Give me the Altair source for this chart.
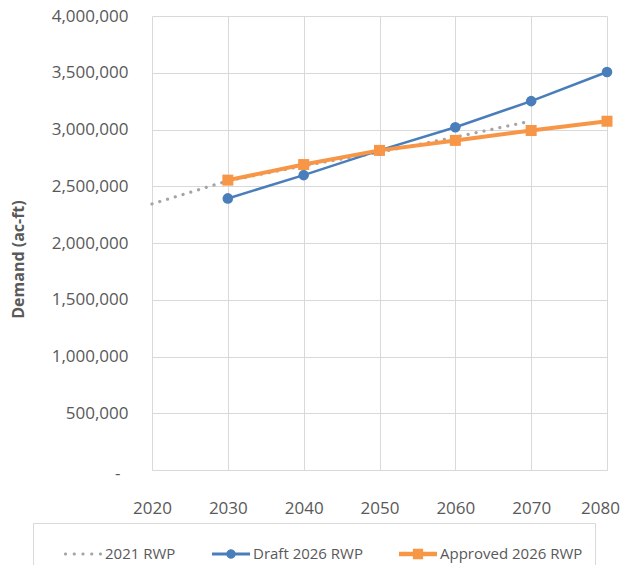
import math
import altair as alt
import pandas as pd

# ---- data ----
years_2021 = [2020, 2030, 2040, 2050, 2060, 2070]
rwp_2021 = [2344000, 2548000, 2680000, 2800000, 2933000, 3075000]

years_2026 = [2030, 2040, 2050, 2060, 2070, 2080]
draft_2026 = [2393000, 2598000, 2816000, 3020000, 3250000, 3507000]
approved_2026 = [2554000, 2691000, 2816000, 2904000, 2991000, 3073000]

series_names = ["2021 RWP", "Draft 2026 RWP", "Approved 2026 RWP"]
series_colors = ["#A5A5A5", "#4A7EBB", "#F79646"]

x_ticks = [2020, 2030, 2040, 2050, 2060, 2070, 2080]
y_ticks = [0, 500000, 1000000, 1500000, 2000000, 2500000, 3000000, 3500000, 4000000]

rows = []
for yr, v in zip(years_2021, rwp_2021):
    rows.append({"year": yr, "demand": v, "series": series_names[0]})
for yr, v in zip(years_2026, draft_2026):
    rows.append({"year": yr, "demand": v, "series": series_names[1]})
for yr, v in zip(years_2026, approved_2026):
    rows.append({"year": yr, "demand": v, "series": series_names[2]})
df = pd.DataFrame(rows)


# ---- legend symbol paths (unit square -1..1) ----
def poly(cx, cy, r, n=16):
    pts = []
    for i in range(n):
        a = 2 * math.pi * i / n
        pts.append(f"{cx + r * math.cos(a):.3f},{cy + r * math.sin(a):.3f}")
    return "M" + " L".join(pts) + " Z"


def rect(x0, y0, x1, y1):
    return f"M{x0},{y0} L{x1},{y0} L{x1},{y1} L{x0},{y1} Z"


sym_dots = " ".join(poly(cx, 0, 0.085, 10) for cx in [-0.92, -0.46, 0.0, 0.46, 0.92])
sym_draft = rect(-1, -0.075, 1, 0.075) + " " + poly(0, 0, 0.25, 20)
sym_approved = rect(-1, -0.115, 1, 0.115) + " " + rect(-0.27, -0.27, 0.27, 0.27)
legend_paths = [sym_dots, sym_draft, sym_approved]

FONT = "Open Sans"
GREY_TXT = "#595959"
GRID = "#d9d9d9"
NB = "\u00a0"

color_scale = alt.Scale(domain=series_names, range=series_colors)

x_enc = alt.X(
    "year:Q",
    scale=alt.Scale(domain=[2020, 2080], nice=False, zero=False),
    axis=alt.Axis(
        values=x_ticks, format="d", title=None, labelFont=FONT, labelFontSize=17,
        labelColor=GREY_TXT, labelPadding=30, ticks=False, domainColor=GRID,
        gridColor=GRID, labelFlush=False,
        labelOffset={"condition": {"test": "datum.value == 2080", "value": -7}, "value": 0},
    ),
)
y_enc = alt.Y(
    "demand:Q",
    scale=alt.Scale(domain=[0, 4000000], nice=False),
    axis=alt.Axis(
        values=y_ticks,
        labelExpr="datum.value == 0 ? '-' : format(datum.value, ',')",
        title="Demand (ac-ft)", titleFont=FONT, titleFontSize=16, titleFontWeight="bold",
        titleColor=GREY_TXT, titleAngle=270, titleX=-134, titleY=243,
        titleAlign="center", titleBaseline="middle",
        labelFont=FONT, labelFontSize=17, labelColor=GREY_TXT,
        labelPadding={"condition": {"test": "datum.value == 0", "value": 32}, "value": 24},
        labelOffset={"condition": {"test": "datum.value == 0", "value": 3}, "value": 0},
        ticks=False, domain=False, gridColor=GRID,
    ),
)

base = alt.Chart(df)


def only(i):
    return base.transform_filter(alt.datum.series == series_names[i])


line_2021 = only(0).mark_line(
    strokeWidth=3.2, strokeDash=[0.1, 8], strokeCap="round", color=series_colors[0]
).encode(x=x_enc, y=y_enc)

line_draft = only(1).mark_line(strokeWidth=2.6, color=series_colors[1]).encode(x=x_enc, y=y_enc)

pts_draft = only(1).mark_point(
    shape="circle", filled=True, size=112, opacity=1, strokeWidth=0, color=series_colors[1]
).encode(x=x_enc, y=y_enc)

line_appr = only(2).mark_line(strokeWidth=4, color=series_colors[2]).encode(x=x_enc, y=y_enc)

pts_appr = only(2).mark_point(
    shape="square", filled=True, size=121, opacity=1, strokeWidth=0, color=series_colors[2]
).encode(x=x_enc, y=y_enc)

leg = alt.Legend(
    title=NB, titleOrient="left", titleFontSize=15, titlePadding=19,
    orient="none", legendX=-119, legendY=507, direction="horizontal",
    columns=3, labelFont=FONT, labelFontSize=15, labelColor=GREY_TXT,
    labelExpr="datum.value == '" + series_names[2] + "' ? datum.label + '" + NB * 5 + "' : datum.label",
    symbolSize=1444, symbolStrokeWidth=0, symbolOpacity=1, labelOffset=3,
    columnPadding=36, padding=12, strokeColor="#d9d9d9", fillColor="white",
    labelLimit=300,
)

legend_layer = base.mark_point(filled=True, opacity=0).encode(
    x=x_enc, y=y_enc,
    color=alt.Color("series:N", scale=color_scale, legend=leg),
    shape=alt.Shape("series:N", scale=alt.Scale(domain=series_names, range=legend_paths), legend=leg),
)

chart = alt.layer(
    line_2021, line_draft, pts_draft, line_appr, pts_appr, legend_layer
).properties(
    width=455, height=454,
    autosize=alt.AutoSizeParams(type="none"),
    padding={"left": 144, "top": 8, "right": 13, "bottom": 95},
    background="white",
).configure_view(stroke=None)

chart.save("out.html", embed_options={"renderer": "svg", "actions": False})
